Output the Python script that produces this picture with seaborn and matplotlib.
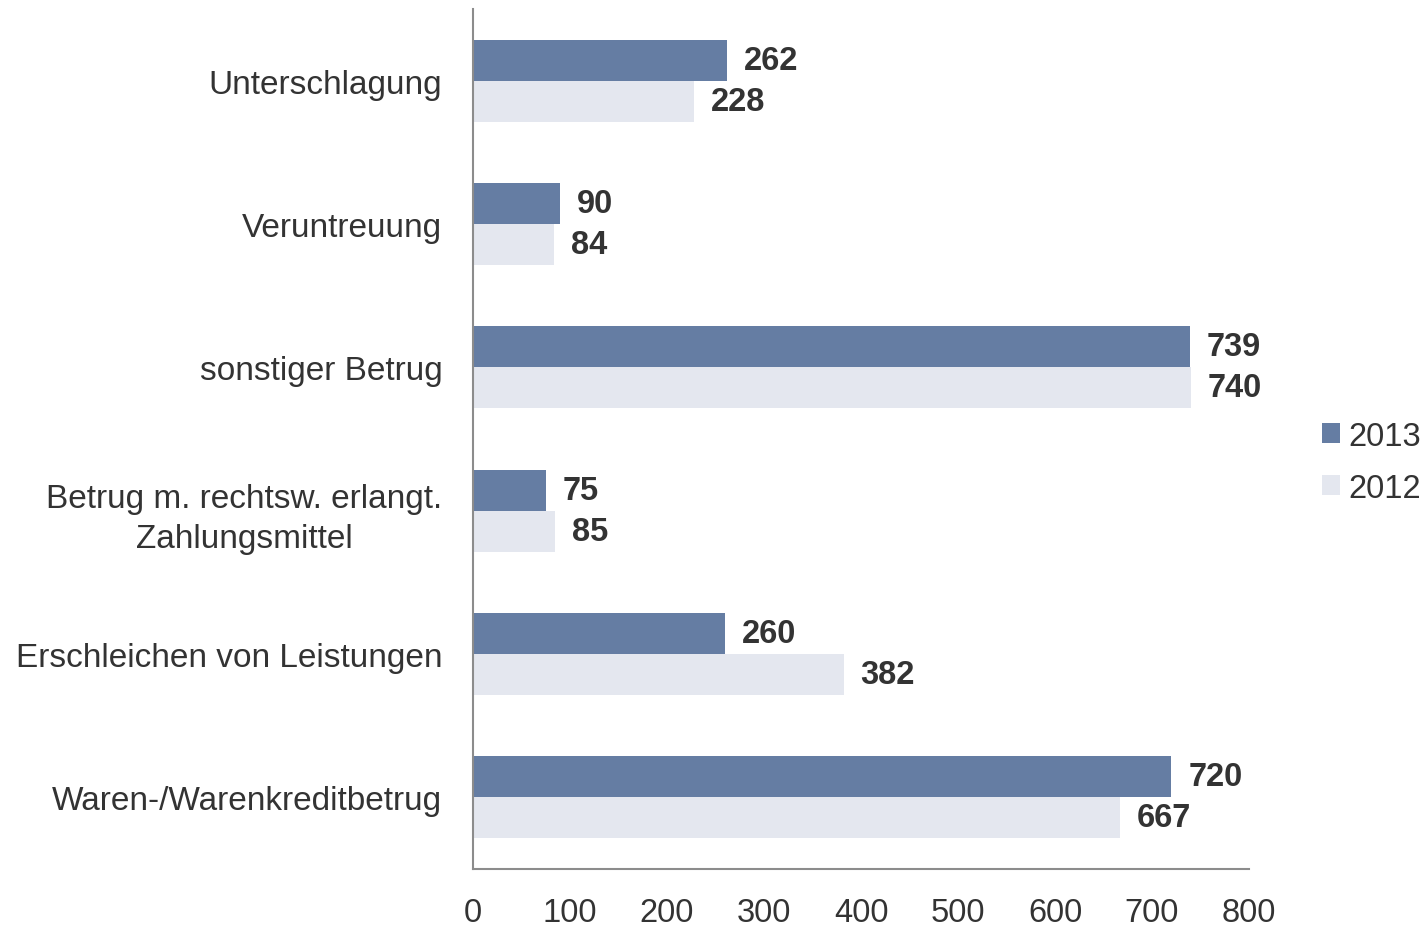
import matplotlib
matplotlib.use("Agg")
import matplotlib.pyplot as plt
import pandas as pd
import seaborn as sns

categories = [
    "Unterschlagung",
    "Veruntreuung",
    "sonstiger Betrug",
    "Betrug m. rechtsw. erlangt.\nZahlungsmittel",
    "Erschleichen von Leistungen",
    "Waren-/Warenkreditbetrug",
]
values_2013 = [262, 90, 739, 75, 260, 720]
values_2012 = [228, 84, 740, 85, 382, 667]
years = ["2013", "2012"]
x_ticks = [0, 100, 200, 300, 400, 500, 600, 700, 800]

df = pd.DataFrame({
    "Kategorie": categories * 2,
    "Jahr": [years[0]] * len(categories) + [years[1]] * len(categories),
    "Wert": values_2013 + values_2012,
})

sns.set_theme(style="white")
plt.rcParams["font.family"] = ["Liberation Sans", "DejaVu Sans"]

fig = plt.figure(figsize=(14.28, 9.28), dpi=100)
ax = fig.add_axes([0.3312, 0.0625, 0.5435, 0.9267])

palette = {"2013": "#657da3", "2012": "#e4e7ef"}
sns.barplot(data=df, y="Kategorie", x="Wert", hue="Jahr", hue_order=years,
            palette=palette, orient="h", width=0.57, saturation=1,
            edgecolor="none", ax=ax)

for container in ax.containers:
    ax.bar_label(container, padding=12, fontsize=23.5, fontweight="bold",
                 color="#333333")

ax.set_xlim(0, 800)
ax.set_ylim(5.5, -0.5)
ax.set_xticks(x_ticks)
ax.set_xlabel("")
ax.set_ylabel("")
ax.tick_params(axis="x", length=0, pad=20, labelsize=23.5, labelcolor="#333333")
ax.tick_params(axis="y", length=0, pad=22, labelsize=24, labelcolor="#333333")
for lbl in ax.get_yticklabels():
    lbl.set_horizontalalignment("right")
    lbl.set_multialignment("center")
    lbl.set_linespacing(1.35)

for side in ["top", "right"]:
    ax.spines[side].set_visible(False)
for side in ["left", "bottom"]:
    ax.spines[side].set_color("#8c8c8c")
    ax.spines[side].set_linewidth(1.5)

handles, labels = ax.get_legend_handles_labels()
ax.legend(handles, labels, loc="center left", bbox_to_anchor=(1.094, 0.473),
          frameon=False, fontsize=23.5, handlelength=0.55, handleheight=0.55,
          handletextpad=0.25, labelspacing=0.65, borderpad=0,
          borderaxespad=0, labelcolor="#333333")

fig.savefig("out.png", dpi=100)
